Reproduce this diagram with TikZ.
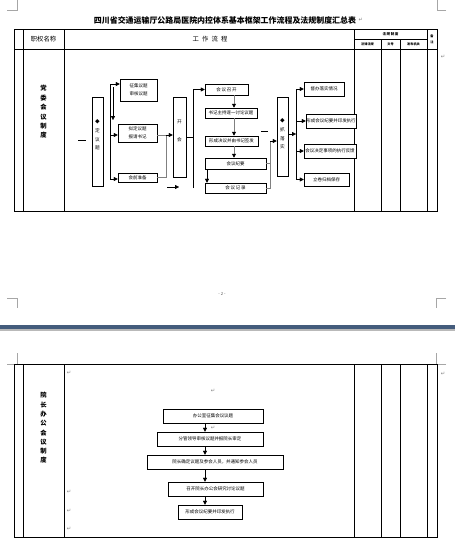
\documentclass[tikz,border=0pt]{standalone}
\usepackage{fontspec}
\setmainfont{Noto Sans CJK SC}
\newfontfamily\kyhieu{DejaVu Sans}
\usetikzlibrary{arrows.meta}

\tikzset{
  hop/.style={draw,line width=0.7pt,inner sep=0pt,align=center,fill=white,
    font=\fontsize{6.4}{7}\selectfont},
  doc/.style={hop},
  chudoc/.style={inner sep=0pt,align=center,font=\fontsize{6.6}{12.4}\selectfont},
  ke/.style={line width=0.9pt},
  goc/.style={gray!70,line width=0.6pt},
  xam/.style={gray,line width=1.3pt},
  muiten/.style={-{Triangle[length=2mm,width=2mm]},line width=0.6pt},
  muitenxam/.style={xam,-{Triangle[length=2mm,width=2mm,color=black]}},
  dau/.style={gray,inner sep=0pt,font=\kyhieu\fontsize{7.5}{7.5}\selectfont}
}

\begin{document}
\begin{tikzpicture}[x=0.5mm,y=-0.5mm]
\useasboundingbox (0,0) rectangle (455,557);
\fill[white] (0,0) rectangle (455,557);
% goc trang
\draw[goc] (7,10) -- (17,10) -- (17,0) (446,10) -- (437,10) -- (437,0);
\draw[goc] (7,298) -- (17,298) -- (17,308) (446,298) -- (436,298) -- (436,308);
\draw[goc] (7,364) -- (17,364) -- (17,353) (446,364) -- (436,364) -- (436,353);
\fill[color={rgb,255:red,68;green,92;blue,124}] (0,325) rectangle (455,329);
\fill[gray!55] (0,329) rectangle (455,331);

\node[font=\bfseries\fontsize{11.3}{12}\selectfont] (tieude) at (225,20)
  {四川省交通运输厅公路局医院内控体系基本框架工作流程及法规制度汇总表};
\node[dau,anchor=west] (dau0) at (tieude.east) {↵};
\node[font=\fontsize{6}{6}\selectfont,gray!70!black] (trang) at (222,294) {- 2 -};

% bang 1
\draw[ke] (14,29) rectangle (437,211);
\foreach \x in {23,64,354,427} \draw[ke] (\x,29) -- (\x,211);
\foreach \x in {381,400} \draw[ke] (\x,39) -- (\x,211);
\draw[ke] (14,49) -- (437,49) (354,39) -- (427,39);
\node[font=\fontsize{9}{10}\selectfont] (cot1) at (43.5,39) {职权名称};
\node[font=\fontsize{9}{10}\selectfont] (cot2) at (210,39) {工\enspace 作\enspace 流\enspace 程};
\node[font=\bfseries\fontsize{5}{6}\selectfont] (cot3) at (390.5,34) {法\,规\,制\,度};
\node[font=\bfseries\fontsize{4.5}{5}\selectfont] (cot31) at (367.5,44) {法律法规};
\node[font=\bfseries\fontsize{4.5}{5}\selectfont] (cot32) at (390.5,44) {文号};
\node[font=\bfseries\fontsize{4.5}{5}\selectfont] (cot33) at (413.5,44) {发布机关};
\node[font=\bfseries\fontsize{4.5}{8}\selectfont,align=center] (cot4) at (432,39) {备\\注};
\node[dau] (dau1) at (443,57) {↵};
\node[font=\bfseries\fontsize{9}{13.4}\selectfont,align=center] (ten1) at (43.5,112)
  {党\\委\\会\\议\\制\\度};

% luu do 1
\node[doc,minimum width=5.5mm,minimum height=44.5mm] (a) at (97.5,141.5) {};
\node[chudoc] (achu) at (a.center |- 0,135) {◆\\定\\议\\题};
\node[hop,minimum width=18.5mm,minimum height=11mm,font=\fontsize{6.4}{11}\selectfont] (b1) at (138.5,90) {征集议题\\审核议题};
\node[hop,minimum width=19.5mm,minimum height=9mm,font=\fontsize{6.4}{11}\selectfont] (b2) at (137.5,133) {拟定议题\\报请书记};
\node[hop,minimum width=19.5mm,minimum height=4.5mm] (b3) at (137.5,177.5) {会前准备};
\node[doc,minimum width=6.5mm,minimum height=40mm] (c) at (179.5,137) {};
\node[chudoc,font=\fontsize{6.6}{25}\selectfont] (cchu) at (c.center |- 0,131) {开\\会};
\node[hop,minimum width=21.5mm,minimum height=5.5mm] (d1) at (226.5,89.5) {会\,议\,召\,开};
\node[hop,minimum width=26mm,minimum height=5mm] (d2) at (231,113) {书记主持逐一讨论议题};
\node[hop,minimum width=26.5mm,minimum height=5mm] (d3) at (231.5,141) {形成决议并由书记签发};
\node[hop,minimum width=30.5mm,minimum height=5.5mm] (d4) at (235.5,163.5) {会议纪要};
\node[hop,minimum width=30.5mm,minimum height=5mm] (d5) at (235.5,188) {会\,议\,记\,录};
\node[doc,minimum width=5.5mm,minimum height=39.5mm] (e) at (282.5,136.5) {};
\node[chudoc] (echu) at (e.center |- 0,134) {◆\\抓\\落\\实};
\node[hop,minimum width=20mm,minimum height=7mm] (f1) at (324,89) {督办落实情况};
\node[hop,minimum width=25mm,minimum height=7mm] (f2) at (331,121) {形成会议纪要并印发执行};
\node[hop,minimum width=26mm,minimum height=7mm] (f3) at (330,151) {会议决定事项的执行反馈};
\node[hop,minimum width=22.5mm,minimum height=6.5mm] (f4) at (326.5,179.5) {立卷归档保存};

\coordinate (vao1) at (78,140);
\coordinate (vao2) at (86,140);
\draw[line width=0.6pt] (vao1) -- (vao2);
\coordinate (tr1t) at (110,84);
\coordinate (tr1d) at (110,179);
\draw[line width=0.6pt] (tr1t) -- (tr1d);
\draw[muiten] (tr1t) -- (tr1t -| b1.west);
\draw[muiten] (110,135) -- (b2.west |- 0,135);
\draw[muiten] (tr1d) -- (tr1d -| b3.west);
\coordinate (xuong1) at (113,87);
\coordinate (xuong2) at (113,120);
\draw[muiten] (xuong1) -- (xuong2);
\coordinate (noi1) at (166,135);
\draw[xam] (b3.east) -| (noi1);
\draw[xam] (b2.east |- noi1) -- (noi1);
\draw[muiten] (noi1) -- (noi1 -| c.west);
\coordinate (le1) at (167,187);
\coordinate (le2) at (179,187);
\draw[muiten] (le1) -- (le2);
\coordinate (tr2) at (193,137);
\coordinate (tr2d) at (193,188);
\draw[line width=0.6pt] (c.east |- tr2) -- (tr2);
\draw[line width=0.6pt] (tr2d) -- (tr2d |- d1.west);
\draw[muiten] (tr2d |- d1.west) -- (d1.west);
\coordinate (td) at (234,0);
\foreach \tren/\duoi in {d1/d2,d2/d3,d3/d4}
  \draw[muitenxam] (\tren.south -| td) -- (\duoi.north -| td);
\coordinate (td2) at (207,0);
\draw[muiten] (d4.south -| td2) -- (d5.north -| td2);
\coordinate (gach1) at (261,131);
\coordinate (gach2) at (268,131);
\draw[line width=0.6pt] (gach1) -- (gach2);
\coordinate (noi2) at (270,141);
\draw[xam] (d4.east) -| (noi2);
\draw[xam] (d5.east) -| (noi2);
\draw[muiten] (noi2) -- (noi2 -| e.west);
\coordinate (tr3) at (296,134);
\draw[muiten] (e.east |- tr3) -- (tr3);
\draw[line width=0.6pt] (tr3 |- f1.west) -- (tr3 |- f4.west);
\foreach \o in {f1,f2,f3,f4}
  \draw[muiten] (tr3 |- \o.west) -- (\o.west);

% bang 2
\draw[ke] (14,364) rectangle (437,537);
\foreach \x in {23,64,354,381,400,427} \draw[ke] (\x,364) -- (\x,537);
\node[dau] (dau2) at (443,374) {↵};
\node[font=\bfseries\fontsize{9}{13.2}\selectfont,align=center] (ten2) at (43.5,428)
  {院\\长\\办\\公\\会\\议\\制\\度};
\node[dau] (dau3) at (69,373) {↵};
\node[dau] (dau4) at (213,391) {↵};
\node[dau] (dau5) at (213,428) {↵};
\node[dau] (dau6) at (69,492) {↵};
\node[dau] (dau7) at (69,511) {↵};
\node[dau] (dau8) at (69,529) {↵};

% luu do 2
\node[hop,minimum width=50mm,minimum height=7mm] (p1) at (213,416) {办公室征集会议议题};
\node[hop,minimum width=53mm,minimum height=7mm] (p2) at (210,439) {分管领导审核议题并报院长审定};
\node[hop,minimum width=68mm,minimum height=7mm] (p3) at (215,462) {院长确定议题及参会人员，并通知参会人员};
\node[hop,minimum width=47.5mm,minimum height=7mm] (p4) at (215.5,489) {召开院长办公会研究讨论议题};
\node[hop,minimum width=32mm,minimum height=7mm] (p5) at (210,512) {形成会议纪要并印发执行};
\coordinate (tp) at (205,0);
\foreach \tren/\duoi in {p1/p2,p2/p3,p3/p4,p4/p5}
  \draw[muiten] (\tren.south -| tp) -- (\duoi.north -| tp);
\end{tikzpicture}
\end{document}
